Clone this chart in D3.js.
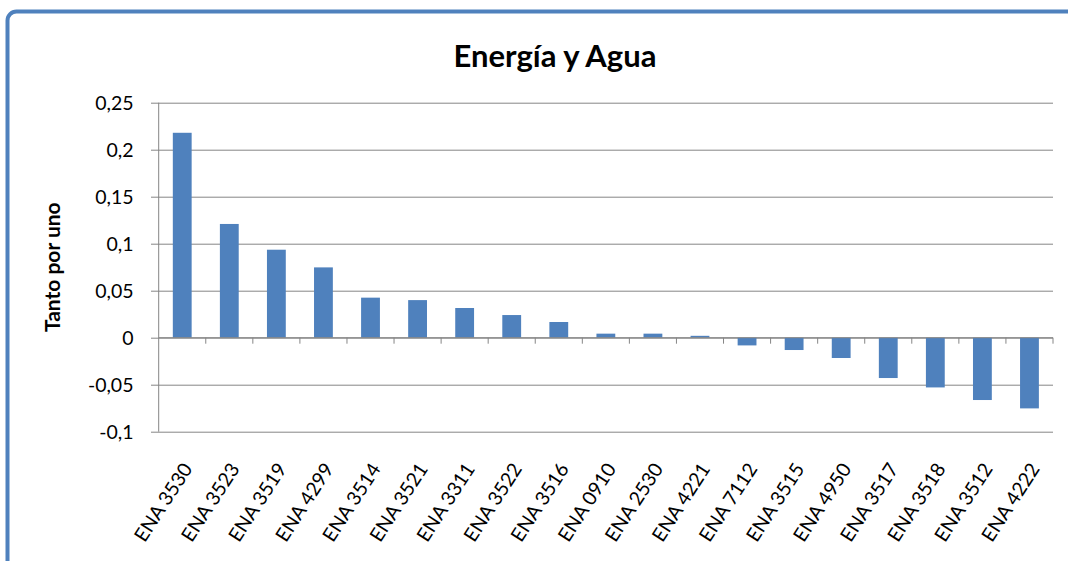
<!DOCTYPE html>
<html>
<head>
<meta charset="utf-8">
<script src="https://d3js.org/d3.v7.min.js"></script>
<style>
  * { margin: 0; padding: 0; }
  html, body { width: 1068px; height: 561px; overflow: hidden; background: #fff; }
  body { font-family: Lato, 'Open Sans', sans-serif; }
</style>
</head>
<body>
<div id="chart"></div>
<script>
// Data
const categories = ['ENA 3530', 'ENA 3523', 'ENA 3519', 'ENA 4299', 'ENA 3514', 'ENA 3521',
  'ENA 3311', 'ENA 3522', 'ENA 3516', 'ENA 0910', 'ENA 2530', 'ENA 4221', 'ENA 7112',
  'ENA 3515', 'ENA 4950', 'ENA 3517', 'ENA 3518', 'ENA 3512', 'ENA 4222'];
const values = [0.218, 0.121, 0.0936, 0.0748, 0.0426, 0.040, 0.0316, 0.0241, 0.0167, 0.0043,
  0.0043, 0.002, -0.0082, -0.0131, -0.0216, -0.0429, -0.0529, -0.0663, -0.0752];
const yTicks = [-0.1, -0.05, 0, 0.05, 0.1, 0.15, 0.2, 0.25];
const title = 'Energía y Agua';
const yTitle = 'Tanto por uno';

const width = 1068, height = 561;
const plot = { left: 158.7, right: 1053, top: 102.7, bottom: 431.7 };
const barColor = '#4f81bd';
const gridColor = '#868686';

const svg = d3.select('#chart').append('svg')
  .attr('width', width).attr('height', height);

// outer chart frame (runs off the right and bottom edges)
svg.append('rect')
  .attr('x', 7.5).attr('y', 11.5)
  .attr('width', 1100).attr('height', 600)
  .attr('rx', 9)
  .attr('fill', 'none')
  .attr('stroke', barColor)
  .attr('stroke-width', 4);

const x = d3.scaleBand().domain(categories)
  .range([plot.left, plot.right])
  .paddingInner(0.6).paddingOuter(0.3);
const xStep = (plot.right - plot.left) / categories.length;

const y = d3.scaleLinear().domain([-0.1, 0.25]).range([plot.bottom, plot.top]);
const fmt = v => d3.format('')(Math.round(v * 100) / 100).replace('.', ',').replace('−', '-');

// gridlines + y axis labels
const yAxis = d3.axisLeft(y).tickValues(yTicks)
  .tickSize(-(plot.right - plot.left) - 7.7)
  .tickFormat(fmt);
const gy = svg.append('g')
  .attr('transform', `translate(${plot.left - 7.7},0)`)
  .call(yAxis);
gy.select('.domain').remove();
gy.selectAll('.tick line').attr('stroke', gridColor).attr('stroke-width', 1)
  .attr('x1', 0);
gy.selectAll('.tick text')
  .attr('x', 133.5 - (plot.left - 7.7))
  .attr('dy', '0.36em')
  .attr('fill', '#000')
  .style('font-family', 'Lato, sans-serif')
  .style('font-size', '19.5px');

// y axis line
svg.append('line')
  .attr('x1', plot.left).attr('x2', plot.left)
  .attr('y1', plot.top).attr('y2', plot.bottom)
  .attr('stroke', gridColor);

// bars
svg.append('g').selectAll('rect')
  .data(values)
  .join('rect')
  .attr('x', (d, i) => x(categories[i]))
  .attr('width', x.bandwidth())
  .attr('y', d => y(Math.max(0, d)))
  .attr('height', d => Math.abs(y(d) - y(0)))
  .attr('fill', barColor);

// category axis on the zero line
const zero = y(0);
svg.append('line')
  .attr('x1', plot.left).attr('x2', plot.right)
  .attr('y1', zero).attr('y2', zero)
  .attr('stroke', gridColor);
svg.append('g').selectAll('line')
  .data(d3.range(1, categories.length + 1))
  .join('line')
  .attr('x1', i => plot.left + i * xStep).attr('x2', i => plot.left + i * xStep)
  .attr('y1', zero).attr('y2', zero + 6)
  .attr('stroke', gridColor);

// rotated category labels
svg.append('g').selectAll('text')
  .data(categories)
  .join('text')
  .attr('transform', d => `translate(${x(d) + x.bandwidth() / 2 + 11},${plot.bottom + 37}) rotate(-57)`)
  .attr('text-anchor', 'end')
  .attr('fill', '#000')
  .style('font-size', '19.5px')
  .text(d => d);

// titles
svg.append('text')
  .attr('x', 555).attr('y', 66.5)
  .attr('text-anchor', 'middle')
  .style('font-size', '31px').style('font-weight', 'bold')
  .text(title);

svg.append('text')
  .attr('transform', `translate(60,${(plot.top + plot.bottom) / 2}) rotate(-90)`)
  .attr('text-anchor', 'middle')
  .style('font-size', '21px').style('font-weight', 'bold')
  .text(yTitle);
</script>
</body>
</html>
